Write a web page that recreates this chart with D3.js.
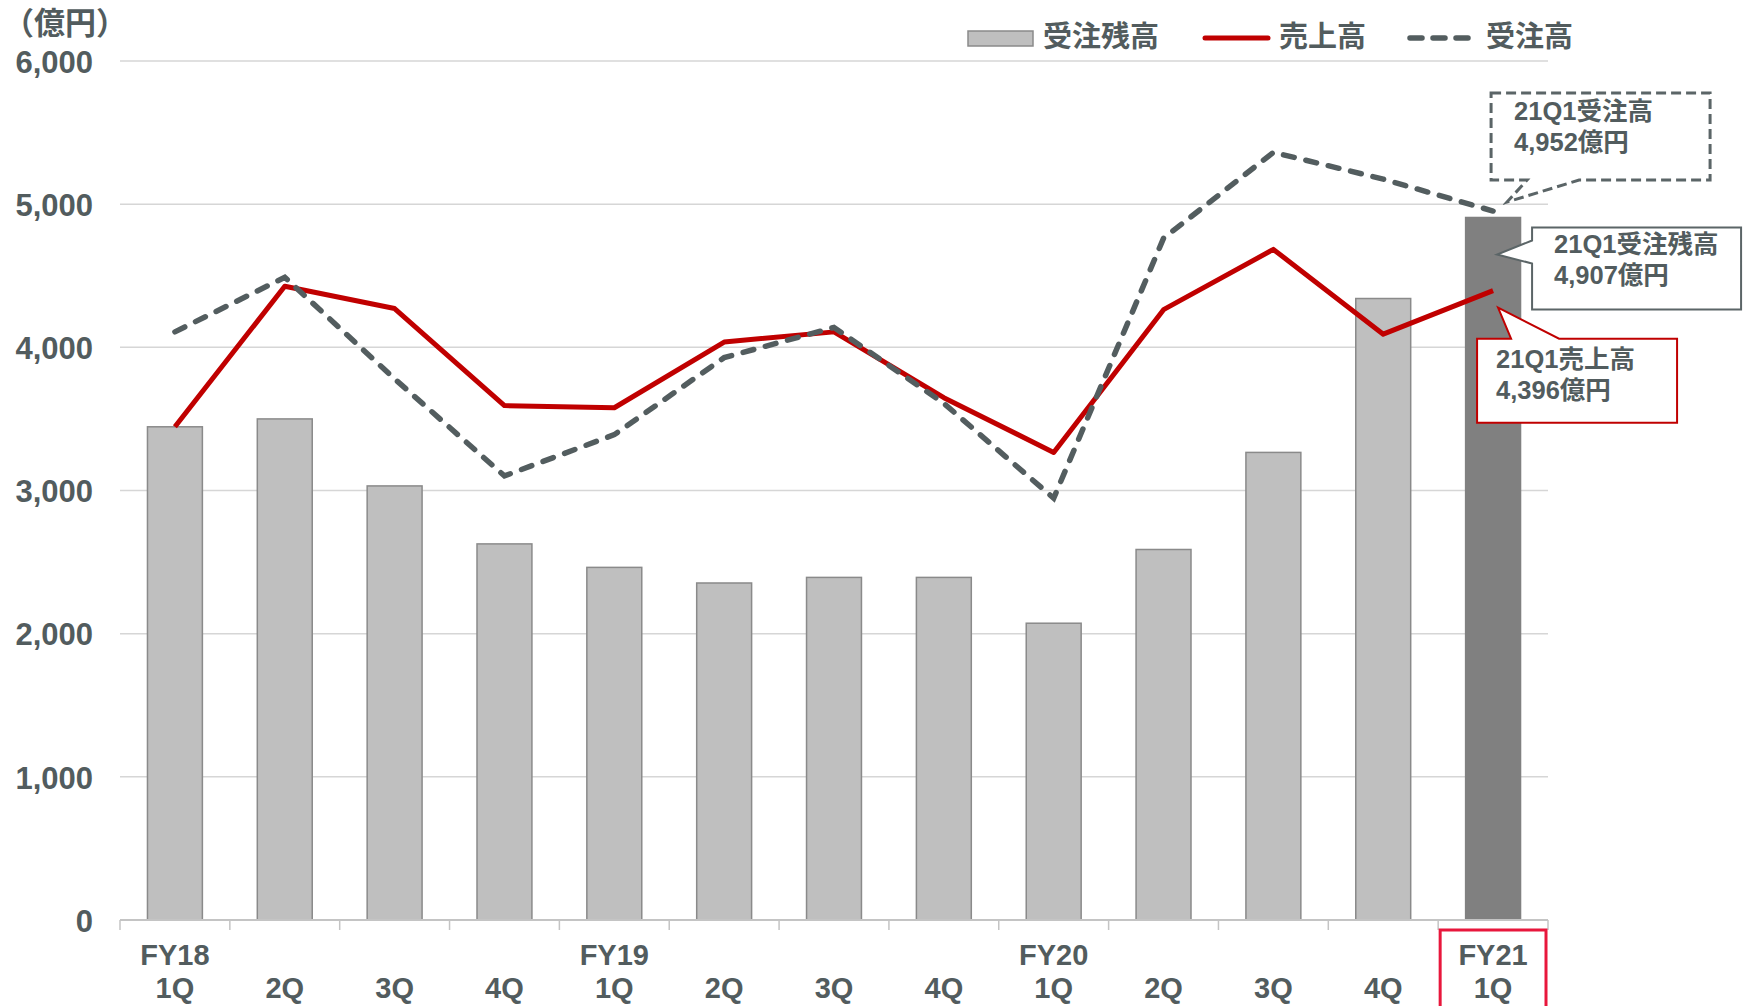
<!DOCTYPE html>
<html>
<head>
<meta charset="utf-8">
<script src="https://cdn.jsdelivr.net/npm/d3@7"></script>
<style>
  body { margin: 0; background: #fff; }
  text { font-family: "Liberation Sans", "Noto Sans CJK JP", sans-serif; font-weight: bold; fill: #525c5e; }
</style>
</head>
<body>
<div id="chart"></div>
<script>
// quarters (top row = fiscal year, bottom row = quarter)
var fyLabels = ["FY18", "", "", "", "FY19", "", "", "", "FY20", "", "", "", "FY21"];
var qLabels = ["1Q", "2Q", "3Q", "4Q", "1Q", "2Q", "3Q", "4Q", "1Q", "2Q", "3Q", "4Q", "1Q"];
// 受注残高 (order backlog), 売上高 (sales), 受注高 (orders) in 億円
var backlog = [3445, 3500, 3032, 2627, 2463, 2354, 2393, 2393, 2073, 2588, 3266, 4341, 4907];
var sales = [3445, 4427, 4271, 3593, 3578, 4037, 4108, 3648, 3266, 4263, 4684, 4092, 4396];
var orders = [4108, 4489, 3780, 3102, 3390, 3928, 4139, 3609, 2946, 4762, 5362, 5175, 4952];
var yTicks = [0, 1000, 2000, 3000, 4000, 5000, 6000];

var width = 1748, height = 1006;
var plotLeft = 120, plotRight = 1548, plotTop = 61, plotBottom = 920;
var textColor = "#525c5e";

var svg = d3.select("#chart").append("svg")
    .attr("width", width)
    .attr("height", height);

var x = d3.scaleBand()
    .domain(d3.range(qLabels.length))
    .range([plotLeft, plotRight])
    .paddingInner(0.5)
    .paddingOuter(0.25);

var y = d3.scaleLinear()
    .domain([0, 6000])
    .range([plotBottom, plotTop]);

function cx(i) { return x(i) + x.bandwidth() / 2; }

// gridlines
svg.append("g").selectAll("line")
    .data(yTicks.slice(1))
    .enter().append("line")
    .attr("x1", plotLeft).attr("x2", plotRight)
    .attr("y1", function(d) { return y(d); })
    .attr("y2", function(d) { return y(d); })
    .attr("stroke", "#d6d6d6")
    .attr("stroke-width", 1.5);

// y labels
var yAxis = d3.axisLeft(y).tickValues(yTicks).tickFormat(d3.format(",")).tickSize(0).tickPadding(0);
var gy = svg.append("g").attr("transform", "translate(93,0)").call(yAxis);
gy.select(".domain").remove();
gy.selectAll("text")
    .attr("fill", textColor)
    .style("font-size", "31px")
    .attr("dy", "0.36em");

svg.append("text")
    .attr("x", 3).attr("y", 22).attr("dy", "0.38em")
    .style("font-size", "31px")
    .text("（億円）");

// bars
svg.append("g").selectAll("rect")
    .data(backlog)
    .enter().append("rect")
    .attr("x", function(d, i) { return x(i); })
    .attr("width", x.bandwidth())
    .attr("y", function(d) { return y(d); })
    .attr("height", function(d) { return y(0) - y(d); })
    .attr("fill", function(d, i) { return i == backlog.length - 1 ? "#808080" : "#bfbfbf"; })
    .attr("stroke", function(d, i) { return i == backlog.length - 1 ? "#808080" : "#8a8a8a"; })
    .attr("stroke-width", 1.5);

// x axis line + ticks at band boundaries
svg.append("line")
    .attr("x1", plotLeft).attr("x2", plotRight)
    .attr("y1", plotBottom).attr("y2", plotBottom)
    .attr("stroke", "#c4c4c4").attr("stroke-width", 2);
svg.append("g").selectAll("line")
    .data(d3.range(qLabels.length + 1))
    .enter().append("line")
    .attr("x1", function(i) { return plotLeft + i * x.step(); })
    .attr("x2", function(i) { return plotLeft + i * x.step(); })
    .attr("y1", plotBottom).attr("y2", plotBottom + 10)
    .attr("stroke", "#c4c4c4").attr("stroke-width", 1.5);

svg.append("g").selectAll("text")
    .data(fyLabels)
    .enter().append("text")
    .attr("x", function(d, i) { return cx(i); })
    .attr("y", 955).attr("dy", "0.36em")
    .attr("text-anchor", "middle")
    .style("font-size", "29px")
    .text(function(d) { return d; });
svg.append("g").selectAll("text")
    .data(qLabels)
    .enter().append("text")
    .attr("x", function(d, i) { return cx(i); })
    .attr("y", 988).attr("dy", "0.36em")
    .attr("text-anchor", "middle")
    .style("font-size", "29px")
    .text(function(d) { return d; });

// highlight box around latest quarter
var last = qLabels.length - 1;
svg.append("rect")
    .attr("x", plotLeft + last * x.step() + 2)
    .attr("y", 930)
    .attr("width", x.step() - 4)
    .attr("height", 90)
    .attr("fill", "none")
    .attr("stroke", "#e8173c")
    .attr("stroke-width", 3);

// lines
var line = d3.line()
    .x(function(d, i) { return cx(i); })
    .y(function(d) { return y(d); });

svg.append("path")
    .datum(sales)
    .attr("d", line)
    .attr("fill", "none")
    .attr("stroke", "#c00000")
    .attr("stroke-width", 5)
    .attr("stroke-linejoin", "round");

svg.append("path")
    .datum(orders)
    .attr("d", line)
    .attr("fill", "none")
    .attr("stroke", "#535d5f")
    .attr("stroke-width", 5.5)
    .attr("stroke-linecap", "round")
    .attr("stroke-dasharray", "11,12");

// legend
var lg = svg.append("g");
lg.append("rect").attr("x", 968).attr("y", 31).attr("width", 65).attr("height", 15)
    .attr("fill", "#bfbfbf").attr("stroke", "#8a8a8a").attr("stroke-width", 1.5);
lg.append("text").attr("x", 1043).attr("y", 37).attr("dy", "0.36em").style("font-size", "29px").text("受注残高");
lg.append("line").attr("x1", 1205).attr("x2", 1268).attr("y1", 38).attr("y2", 38)
    .attr("stroke", "#c00000").attr("stroke-width", 5).attr("stroke-linecap", "round");
lg.append("text").attr("x", 1279).attr("y", 37).attr("dy", "0.36em").style("font-size", "29px").text("売上高");
lg.append("line").attr("x1", 1410).attr("x2", 1474).attr("y1", 38).attr("y2", 38)
    .attr("stroke", "#535d5f").attr("stroke-width", 5.5).attr("stroke-linecap", "round")
    .attr("stroke-dasharray", "12,11");
lg.append("text").attr("x", 1486).attr("y", 37).attr("dy", "0.36em").style("font-size", "29px").text("受注高");

// callouts for latest quarter
var fmt = d3.format(",");
var lx = cx(last);

function callout(path, stroke, dash, tx, ty, label, value) {
    svg.append("path")
        .attr("d", path)
        .attr("fill", "#fff")
        .attr("stroke", stroke)
        .attr("stroke-width", dash ? 3 : 2)
        .attr("stroke-dasharray", dash ? "10,5" : null)
        .attr("stroke-linejoin", "miter");
    svg.append("text").attr("x", tx).attr("y", ty).attr("dy", "0.36em")
        .style("font-size", "25.5px").text(label);
    svg.append("text").attr("x", tx).attr("y", ty + 31).attr("dy", "0.36em")
        .style("font-size", "25.5px").text(fmt(value) + "億円");
}

// 受注高
var oy = y(orders[last]);
callout("M" + (lx - 2) + "," + (oy - 118) + "H" + (lx + 217) + "V" + (oy - 31) +
        "H" + (lx + 86) + "L" + (lx + 14) + "," + (oy - 9) + "L" + (lx + 34) + "," + (oy - 31) +
        "H" + (lx - 2) + "Z",
        "#5b6567", true, lx + 21, oy - 100, "21Q1受注高", orders[last]);

// 受注残高
var by = y(backlog[last]);
callout("M" + (lx + 39) + "," + (by + 10) + "H" + (lx + 248) + "V" + (by + 92) +
        "H" + (lx + 39) + "V" + (by + 46) + "L" + (lx + 4) + "," + (by + 37) +
        "L" + (lx + 39) + "," + (by + 23) + "Z",
        "#5b6567", false, lx + 61, by + 26, "21Q1受注残高", backlog[last]);

// 売上高
var sy = y(sales[last]);
callout("M" + (lx - 16) + "," + (sy + 48) + "H" + (lx + 18) + "L" + (lx + 5) + "," + (sy + 17) +
        "L" + (lx + 66) + "," + (sy + 48) + "H" + (lx + 184) + "V" + (sy + 132) +
        "H" + (lx - 16) + "Z",
        "#c00000", false, lx + 3, sy + 68, "21Q1売上高", sales[last]);
</script>
</body>
</html>
